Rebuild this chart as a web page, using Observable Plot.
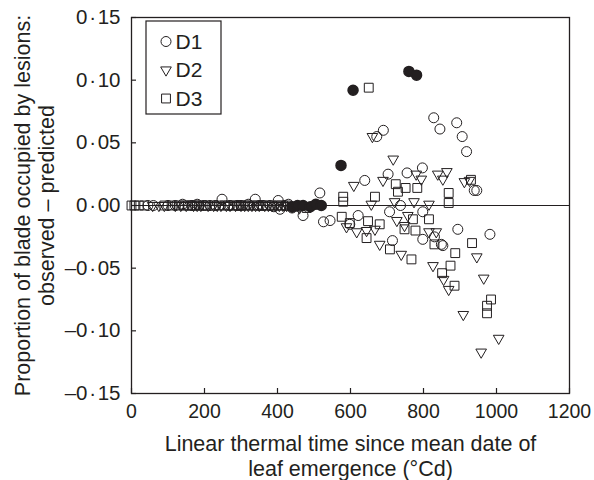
<!DOCTYPE html>
<html>
<head>
<meta charset="utf-8">
<script src="https://cdn.jsdelivr.net/npm/d3@7"></script>
<script src="https://cdn.jsdelivr.net/npm/@observablehq/plot@0.6"></script>
<style>
  html, body { margin: 0; padding: 0; background: #fff; }
  #chart { position: relative; width: 594px; height: 480px; }
</style>
</head>
<body>
<div id="chart"></div>
<script>
// ---- data ----
const xTicks = [0, 200, 400, 600, 800, 1000, 1200];
const yTicks = [-0.15, -0.10, -0.05, 0.00, 0.05, 0.10, 0.15];
const seriesNames = ["D1", "D2", "D3"];

const d1x = [45, 60, 100, 120, 140, 165, 180, 200, 215, 230, 248, 270, 290, 300, 320, 339, 350, 360, 380, 390, 402, 407, 420, 430, 440,
  470, 516, 526, 544, 598, 621, 639, 672, 690, 703, 707, 715, 737, 755, 797, 798, 798, 828, 830, 845, 849, 853, 891, 894, 906, 918, 939, 946, 982];
const d1y = [0, 0, 0, 0, 0.001, 0, 0.001, 0, 0, 0, 0.005, 0, 0, 0, 0.001, 0.005, 0, 0, 0, -0.001, 0.004, -0.003, 0, 0.001, -0.002,
  -0.008, 0.010, -0.013, -0.012, -0.015, -0.008, 0.020, 0.055, 0.060, 0.025, -0.005, -0.028, 0, 0.026, 0.030, -0.005, -0.027, 0.070, -0.025, 0.061, -0.031, -0.032, 0.066, -0.019, 0.055, 0.043, 0.012, 0.012, -0.023];

const d2x = [58, 75, 90, 120, 135, 150, 170, 180, 190, 210, 225, 235, 245, 260, 270, 285, 300, 310, 320, 330, 340, 350, 365, 375, 385, 395, 405, 415, 425, 440, 460,
  589, 609, 617, 644, 657, 660, 667, 680, 689, 717, 721, 727, 739, 748, 757, 774, 780, 794, 815, 815, 826, 835, 839, 853, 855, 864, 869, 909, 912, 926, 946, 958, 965, 1006];
const d2y = [0, 0, 0, 0, 0, 0, 0, 0, 0, 0, 0, 0, 0, 0, 0, 0, 0, 0, 0, 0, 0, 0, 0, 0, 0, 0, 0, 0, 0, -0.001, -0.002,
  -0.017, 0.016, -0.021, -0.020, 0.001, 0.055, -0.019, -0.031, 0.020, 0.037, 0.003, -0.012, -0.039, -0.016, -0.008, 0.003, 0.025, 0.021, 0.001, -0.021, -0.048, -0.021, 0.025, 0.021, -0.059, 0.027, -0.067, -0.087, 0.019, 0.020, -0.041, -0.117, -0.058, -0.106];

const d3x = [0, 8, 20, 35, 90, 110, 130, 145, 155, 165, 175, 185, 195, 205, 225, 240, 255, 265, 280, 290, 300, 310, 320, 335, 345, 360, 370, 385, 400, 410, 425, 450, 480,
  576, 580, 580, 598, 644, 648, 650, 667, 680, 708, 724, 730, 748, 751, 767, 771, 778, 783, 815, 830, 851, 869, 869, 874, 885, 887, 930, 933, 974, 974, 985];
const d3y = [0, 0, 0, 0, 0, 0, 0, 0, 0, 0, 0, 0, 0, 0, 0, 0, 0, 0, 0, 0, 0, 0, 0, 0, 0, 0, 0, 0, 0, 0, 0, -0.001, -0.002,
  -0.009, 0.007, 0.003, -0.014, -0.026, -0.0125, 0.094, 0.007, -0.015, -0.035, 0.017, 0.011, -0.019, 0.014, -0.043, -0.011, -0.020, 0.014, -0.011, -0.031, -0.054, 0.010, 0.002, -0.048, -0.064, -0.038, 0.0205, -0.030, -0.080, -0.086, -0.075];

// filled circles (not in legend)
const filledX = [440, 455, 470, 490, 505, 520, 574, 607, 760, 781];
const filledY = [-0.001, 0, 0, -0.001, 0.001, 0, 0.032, 0.092, 0.107, 0.104];

const xLabel = "Linear thermal time since mean date of\nleaf emergence (°Cd)";
const yLabel = "Proportion of blade occupied by lesions:\nobserved – predicted";

// ---- build ----
const ink = "#231f20";
const font = "'Liberation Sans', Arial, Helvetica, sans-serif";

const triangleDown = {
  draw(context, size) {
    const a = Math.sqrt(size) * 1.2;
    const h = a * Math.sqrt(3) / 2;
    context.moveTo(-a / 2, -h / 3);
    context.lineTo(a / 2, -h / 3);
    context.lineTo(0, 2 * h / 3);
    context.closePath();
  }
};
const symbols = {D1: "circle", D2: triangleDown, D3: "square"};

const rows = [];
[[d1x, d1y, "D1"], [d2x, d2y, "D2"], [d3x, d3y, "D3"]].forEach(([xs, ys, s]) => {
  xs.forEach((x, i) => rows.push({x, y: ys[i], s}));
});
const filled = filledX.map((x, i) => ({x, y: filledY[i]}));

const fmtY = d => (d < 0 ? "\u2013" : "") + Math.abs(d).toFixed(2).replace(".", "\u200a\u00b7\u200a");
const fmtX = d => String(d);

const plot = Plot.plot({
  width: 594,
  height: 480,
  marginLeft: 131,
  marginRight: 25,
  marginTop: 17,
  marginBottom: 87,
  style: {fontFamily: font, fontSize: "20px", color: ink, background: "#fff"},
  x: {domain: [0, 1200]},
  y: {domain: [-0.15, 0.15]},
  marks: [
    Plot.frame({stroke: ink, strokeWidth: 1.3}),
    Plot.axisX({ticks: xTicks, tickSize: -5, tickPadding: 16, tickFormat: fmtX, label: null, stroke: ink, strokeWidth: 1.2, fill: ink, fontSize: 19.5}),
    Plot.axisY({ticks: yTicks, tickSize: -5, tickPadding: 16, tickFormat: fmtY, label: null, stroke: ink, strokeWidth: 1.2, fill: ink, fontSize: 20.5}),
    Plot.ruleY([0], {stroke: ink, strokeWidth: 1.1}),
    Plot.dot(rows, {x: "x", y: "y", symbol: d => symbols[d.s], r: 5, stroke: ink, strokeWidth: 1, fill: "none"}),
    Plot.dot(filled, {x: "x", y: "y", r: 5, fill: ink, stroke: ink}),
    Plot.text([xLabel], {frameAnchor: "bottom", dy: 62, textAnchor: "middle", lineAnchor: "middle", lineHeight: 1.17, fill: ink, fontSize: 21.5}),
    Plot.text([yLabel], {frameAnchor: "left", dx: -97, rotate: -90, textAnchor: "middle", lineAnchor: "middle", lineHeight: 1.1, fill: ink, fontSize: 21.5})
  ],
  symbol: {domain: seriesNames, range: [symbols.D1, symbols.D2, symbols.D3]}
});

document.getElementById("chart").appendChild(plot);

// ---- legend box (top-left inside frame) ----
const svg = d3.select(plot);
const lg = svg.append("g").attr("class", "legend");
lg.append("rect").attr("x", 146).attr("y", 21).attr("width", 75).attr("height", 93)
  .attr("fill", "#fff").attr("stroke", ink).attr("stroke-width", 1.2);
seriesNames.forEach((name, i) => {
  const cy = 41.5 + i * 28.5;
  const sym = d3.symbol().type(symbols[name] === "circle" ? d3.symbolCircle : symbols[name] === "square" ? d3.symbolSquare : triangleDown).size(Math.PI * 25);
  lg.append("path").attr("d", sym()).attr("transform", `translate(166,${cy})`)
    .attr("fill", "none").attr("stroke", ink).attr("stroke-width", 1);
  lg.append("text").attr("x", 189).attr("y", cy).attr("dy", "0.35em")
    .attr("font-family", font).attr("font-size", 21).attr("fill", ink).text(name);
});
</script>
</body>
</html>
